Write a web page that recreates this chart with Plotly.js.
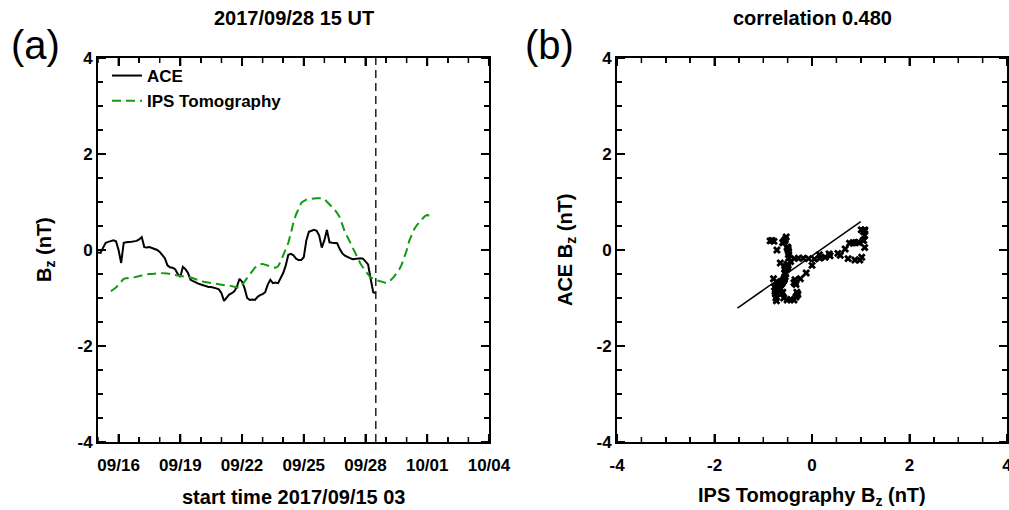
<!DOCTYPE html>
<html>
<head>
<meta charset="utf-8">
<script src="https://cdn.plot.ly/plotly-3.0.1.min.js"></script>
<style>html,body{margin:0;padding:0;background:#fff;}</style>
</head>
<body>
<div id="chart" style="width:1009px;height:510px;"></div>
<script>
// ---- data: 3-hourly samples, time in days since start 2017/09/15 03 UT ----
const stepHours = 3;
const eventDay = 13.5;            // 2017/09/28 15 UT
const dayRange = [0, 19];
const dateTickDays = [1, 4, 7, 10, 13, 16, 19];
const dateTickText = ['09/16', '09/19', '09/22', '09/25', '09/28', '10/01', '10/04'];

const bzRange = [-4, 4];
const bzTickVals = [-4, -2, 0, 2, 4];
const bzTickText = ['-4', '-2', '0', '2', '4'];

const aceBz = [
 -0.05,-0.06,0.05,0.15,0.17,0.19,0.20,0.18,0.00,-0.27,
 0.15,0.16,0.16,0.17,0.18,0.19,0.22,0.27,0.06,0.05,
 0.06,0.04,0.03,0.00,-0.04,-0.10,-0.17,-0.32,-0.36,-0.37,
 -0.40,-0.50,-0.56,-0.35,-0.40,-0.48,-0.62,-0.65,-0.68,-0.70,
 -0.72,-0.74,-0.76,-0.77,-0.77,-0.78,-0.80,-0.82,-0.90,-1.06,
 -1.00,-0.93,-0.90,-0.86,-0.77,-0.60,-0.66,-0.80,-1.00,-1.04,
 -1.03,-1.04,-0.98,-0.94,-0.92,-0.88,-0.72,-0.62,-0.69,-0.68,
 -0.69,-0.60,-0.48,-0.32,-0.10,-0.08,-0.11,-0.18,-0.21,-0.21,
 -0.15,0.20,0.38,0.40,0.42,0.40,0.30,0.05,0.20,0.42,
 0.16,0.15,0.15,0.14,0.02,-0.07,-0.12,-0.15,-0.17,-0.19,
 -0.18,-0.17,-0.17,-0.18,-0.24,-0.30,-0.60,-0.88,-0.90,
 null,null,null,null,null,null,null,null,null,null,
 null,null,null,null,null,null,null,null,null,null,
 null,null
];

const ipsBz = [
 null,null,null,null,null,
 -0.86,-0.82,-0.78,-0.72,-0.65,
 -0.60,-0.59,-0.59,-0.58,-0.57,-0.56,-0.55,-0.53,-0.51,-0.50,
 -0.50,-0.50,-0.50,-0.49,-0.48,-0.48,-0.48,-0.49,-0.50,-0.51,
 -0.52,-0.54,-0.55,-0.55,-0.56,-0.56,-0.57,-0.59,-0.61,-0.62,
 -0.64,-0.66,-0.67,-0.68,-0.69,-0.69,-0.70,-0.71,-0.72,-0.73,
 -0.74,-0.74,-0.75,-0.76,-0.77,-0.79,-0.73,-0.65,-0.58,-0.51,
 -0.44,-0.37,-0.33,-0.30,-0.29,-0.31,-0.33,-0.35,-0.36,-0.37,
 -0.34,-0.24,-0.12,0.00,0.15,0.35,0.58,0.74,0.88,0.98,
 1.02,1.05,1.06,1.07,1.08,1.08,1.08,1.08,1.06,1.01,
 0.95,0.89,0.84,0.77,0.68,0.53,0.37,0.27,0.16,0.05,
 -0.07,-0.18,-0.28,-0.36,-0.44,-0.51,-0.57,-0.60,-0.62,-0.64,
 -0.65,-0.67,-0.69,-0.66,-0.62,-0.56,-0.50,-0.42,-0.31,-0.18,
 -0.01,0.19,0.33,0.44,0.52,0.57,0.64,0.70,0.73,0.71,
 0.67
];

// least-squares line as drawn in panel (b)
const fitIps = [-1.53, 1.00];
const fitAce = [-1.21, 0.59];

const titleA = '2017/09/28 15 UT';
const titleB = 'correlation 0.480';

// ---- build ----
const days = ipsBz.map((_, i) => i * stepHours / 24);
const scatX = [], scatY = [];
for (let i = 0; i < days.length; i++) {
  if (aceBz[i] !== null && ipsBz[i] !== null) { scatX.push(ipsBz[i]); scatY.push(aceBz[i]); }
}

const sans = '"Liberation Sans", Arial, Helvetica, sans-serif';
const tickFont = {family: sans, size: 17, color: '#000', weight: 'bold'};
const titleFont = {family: sans, size: 20, color: '#000', weight: 'bold'};
const legendFont = {family: sans, size: 17, color: '#000', weight: 'bold'};

const traces = [
  {x: days, y: aceBz, xaxis: 'x', yaxis: 'y', type: 'scatter', mode: 'lines', name: 'ACE',
   line: {color: '#000', width: 2}},
  {x: days, y: ipsBz, xaxis: 'x', yaxis: 'y', type: 'scatter', mode: 'lines', name: 'IPS Tomography',
   line: {color: '#129a12', width: 2, dash: '9px,5px'}},
  {x: scatX, y: scatY, xaxis: 'x2', yaxis: 'y2', type: 'scatter', mode: 'markers', showlegend: false,
   marker: {symbol: 'x', size: 7, color: '#000'}},
  {x: fitIps, y: fitAce, xaxis: 'x2', yaxis: 'y2', type: 'scatter', mode: 'lines', showlegend: false,
   line: {color: '#000', width: 1.5}}
];

function axisStyle() {
  return {
    ticks: 'inside', ticklen: 8, tickwidth: 2, tickcolor: '#000',
    showline: true, linecolor: '#000', linewidth: 2, mirror: 'allticks',
    showgrid: false, zeroline: false, tickfont: Object.assign({}, tickFont)
  };
}
function minorTicks(step) {
  return {dtick: step, ticks: 'inside', ticklen: 5, tickwidth: 1.5, tickcolor: '#000', showgrid: false};
}

// inward tick marks on all four sides, placed through the axes' own scales
function stepList(range, step, skip) {
  const out = [];
  for (let v = range[0]; v <= range[1] + 1e-9; v += step) {
    const r = Math.round(v * 1000) / 1000;
    if (!skip.includes(r)) out.push(r);
  }
  return out;
}
function tickMarks(xref, yref, xr, yr, xMajor, xMinor, yMajor, yMinor) {
  const s = [];
  const add = (isX, v, len, w) => {
    const line = {color: '#000', width: w};
    if (isX) {
      s.push({type: 'line', xref, yref, x0: v, x1: v, ysizemode: 'pixel', yanchor: yr[0], y0: 0, y1: len, line});
      s.push({type: 'line', xref, yref, x0: v, x1: v, ysizemode: 'pixel', yanchor: yr[1], y0: 0, y1: -len, line});
    } else {
      s.push({type: 'line', xref, yref, y0: v, y1: v, xsizemode: 'pixel', xanchor: xr[0], x0: 0, x1: len, line});
      s.push({type: 'line', xref, yref, y0: v, y1: v, xsizemode: 'pixel', xanchor: xr[1], x0: 0, x1: -len, line});
    }
  };
  xMinor.forEach(v => add(true, v, 5, 1.5));
  xMajor.forEach(v => add(true, v, 8, 2));
  yMinor.forEach(v => add(false, v, 5, 1.5));
  yMajor.forEach(v => add(false, v, 8, 2));
  return s;
}
const bzMinor = stepList(bzRange, 0.5, bzTickVals);
const dayMinor = stepList(dayRange, 1, dateTickDays);
const tickShapes = [].concat(
  tickMarks('x', 'y', dayRange, bzRange, dateTickDays, dayMinor, bzTickVals, bzMinor),
  tickMarks('x2', 'y2', bzRange, bzRange, bzTickVals, bzMinor, bzTickVals, bzMinor)
);

const layout = {
  width: 1009, height: 510,
  margin: {l: 98, r: 2, t: 58, b: 68},
  paper_bgcolor: '#fff', plot_bgcolor: '#fff',
  showlegend: true,
  legend: {x: 0.0099, y: 1.0, xanchor: 'left', yanchor: 'top', bgcolor: 'rgba(0,0,0,0)', font: legendFont},
  xaxis: Object.assign(axisStyle(), {
    domain: [0, 0.4301], anchor: 'y', range: dayRange,
    tickmode: 'array', tickvals: dateTickDays, ticktext: dateTickText, minor: minorTicks(1),
    ticklabelstandoff: 7
  }),
  yaxis: Object.assign(axisStyle(), {
    domain: [0, 1], anchor: 'x', range: bzRange, tickmode: 'array', tickvals: bzTickVals, ticktext: bzTickText,
    minor: minorTicks(0.5)
  }),
  xaxis2: Object.assign(axisStyle(), {
    domain: [0.5710, 1], anchor: 'y2', range: bzRange, tickmode: 'array', tickvals: bzTickVals, ticktext: bzTickText,
    minor: minorTicks(0.5), ticklabeloverflow: 'allow', ticklabelstandoff: 7
  }),
  yaxis2: Object.assign(axisStyle(), {
    domain: [0, 1], anchor: 'x2', range: bzRange, tickmode: 'array', tickvals: bzTickVals, ticktext: bzTickText,
    minor: minorTicks(0.5)
  }),
  shapes: [
    {type: 'line', xref: 'x', yref: 'paper', x0: eventDay, x1: eventDay, y0: 0, y1: 1,
     line: {color: '#222', width: 1.5, dash: '8px,5px'}}
  ].concat(tickShapes),
  annotations: [
    {text: '(a)', xref: 'paper', yref: 'paper', x: -0.0693, y: 1.034, xanchor: 'center', yanchor: 'middle',
     showarrow: false, font: {family: sans, size: 40, color: '#000'}},
    {text: '(b)', xref: 'paper', yref: 'paper', x: 0.4962, y: 1.034, xanchor: 'center', yanchor: 'middle',
     showarrow: false, font: {family: sans, size: 40, color: '#000'}},
    {text: titleA, xref: 'paper', yref: 'paper', x: 0.2156, y: 1.104, xanchor: 'center', yanchor: 'middle',
     showarrow: false, font: titleFont},
    {text: titleB, xref: 'paper', yref: 'paper', x: 0.7855, y: 1.104, xanchor: 'center', yanchor: 'middle',
     showarrow: false, font: titleFont},
    {text: 'start time 2017/09/15 03', xref: 'paper', yref: 'paper', x: 0.2156, y: -0.1432,
     xanchor: 'center', yanchor: 'middle', showarrow: false, font: titleFont},
    {text: 'IPS Tomography B<sub>z</sub> (nT)', xref: 'paper', yref: 'paper', x: 0.7855, y: -0.1432,
     xanchor: 'center', yanchor: 'middle', showarrow: false, font: titleFont},
    {text: 'B<sub>z</sub> (nT)', xref: 'paper', yref: 'paper', x: -0.0583, y: 0.5, textangle: -90,
     xanchor: 'center', yanchor: 'middle', showarrow: false, font: titleFont},
    {text: 'ACE B<sub>z</sub> (nT)', xref: 'paper', yref: 'paper', x: 0.5149, y: 0.5, textangle: -90,
     xanchor: 'center', yanchor: 'middle', showarrow: false, font: titleFont}
  ]
};

Plotly.newPlot('chart', traces, layout, {displayModeBar: false, staticPlot: true});
</script>
</body>
</html>
